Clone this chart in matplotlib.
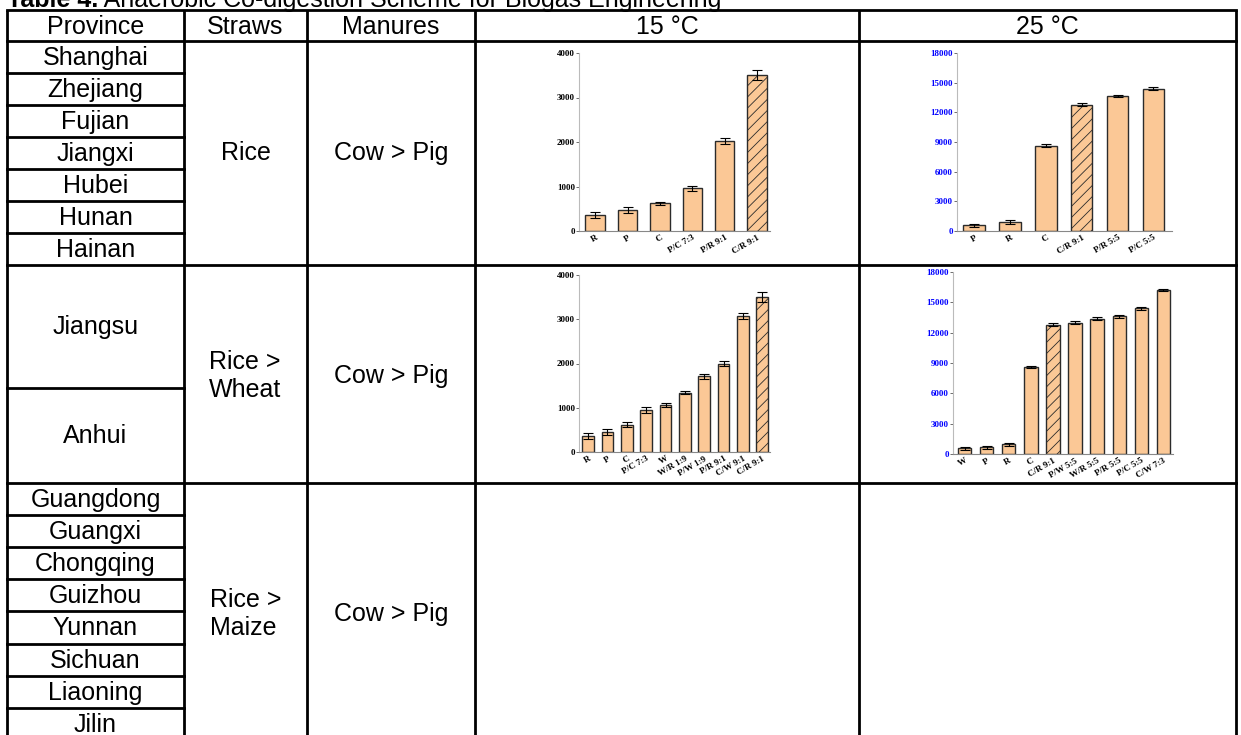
import matplotlib
matplotlib.use('Agg')
import matplotlib.pyplot as plt

# table text
title_bold = 'Table 4.'
title_rest = ' Anaerobic Co-digestion Scheme for Biogas Engineering'
headers = ['Province', 'Straws', 'Manures', '15 \u00b0C', '25 \u00b0C']
provinces_rice = ['Shanghai', 'Zhejiang', 'Fujian', 'Jiangxi', 'Hubei', 'Hunan', 'Hainan']
provinces_wheat = ['Jiangsu', 'Anhui']
provinces_maize = ['Guangdong', 'Guangxi', 'Chongqing', 'Guizhou', 'Yunnan',
                   'Sichuan', 'Liaoning', 'Jilin']
straws = ['Rice', 'Rice >\nWheat', 'Rice >\nMaize']
manures = ['Cow > Pig', 'Cow > Pig', 'Cow > Pig']

# biogas yields
labels_15_rice = ['R', 'P', 'C', 'P/C 7:3', 'P/R 9:1', 'C/R 9:1']
vals_15_rice = [360, 470, 620, 960, 2020, 3500]
errs_15_rice = [60, 60, 40, 50, 60, 110]

labels_25_rice = ['P', 'R', 'C', 'C/R 9:1', 'P/R 5:5', 'P/C 5:5']
vals_25_rice = [600, 950, 8630, 12790, 13630, 14410]
errs_25_rice = [150, 200, 150, 150, 120, 150]

labels_15_wheat = ['R', 'P', 'C', 'P/C 7:3', 'W', 'W/R 1:9', 'P/W 1:9', 'P/R 9:1', 'C/W 9:1', 'C/R 9:1']
vals_15_wheat = [370, 460, 620, 950, 1060, 1340, 1710, 2000, 3080, 3500]
errs_15_wheat = [70, 70, 50, 60, 50, 40, 50, 60, 70, 110]

labels_25_wheat = ['W', 'P', 'R', 'C', 'C/R 9:1', 'P/W 5:5', 'W/R 5:5', 'P/R 5:5', 'P/C 5:5', 'C/W 7:3']
vals_25_wheat = [550, 650, 950, 8600, 12800, 13000, 13400, 13600, 14400, 16200]
errs_25_wheat = [150, 150, 150, 120, 180, 120, 120, 150, 150, 120]

W, H = 1241, 735
plt.rcParams['hatch.linewidth'] = 0.6
fig = plt.figure(figsize=(W / 100, H / 100), dpi=100)
fig.patch.set_facecolor('white')

bg = fig.add_axes([0, 0, 1, 1])
bg.set_xlim(0, W)
bg.set_ylim(H, 0)
bg.axis('off')

font = 'Liberation Sans'
fs = 18
lw = 2

cols = [7, 184, 307, 475, 859, 1236]
top, head_bot = 10, 41
g1_bot, g2_split, g2_bot = 265, 388, 483
row_h3 = 32.1

# borders
for x in cols:
    bg.plot([x, x], [top, H + 5], color='black', lw=lw, solid_capstyle='butt')
for y in [top, head_bot, g1_bot, g2_bot]:
    bg.plot([cols[0], cols[-1]], [y, y], color='black', lw=lw)
for k in range(1, len(provinces_rice)):
    y = head_bot + k * (g1_bot - head_bot) / len(provinces_rice)
    bg.plot([cols[0], cols[1]], [y, y], color='black', lw=lw)
bg.plot([cols[0], cols[1]], [g2_split, g2_split], color='black', lw=lw)
for k in range(1, len(provinces_maize)):
    y = g2_bot + k * row_h3
    bg.plot([cols[0], cols[1]], [y, y], color='black', lw=lw)

# title (cut at the top edge as in the source page)
t1 = bg.text(7, 7, title_bold, fontsize=fs, fontweight='bold', family=font,
             ha='left', va='baseline')
bg.annotate(title_rest, xy=(1, 0), xycoords=t1, fontsize=fs, family=font,
            ha='left', va='bottom')

# header
for i, h in enumerate(headers):
    bg.text((cols[i] + cols[i + 1]) / 2, (top + head_bot) / 2 + 1, h,
            fontsize=fs, family=font, ha='center', va='center')

# provinces
rh1 = (g1_bot - head_bot) / len(provinces_rice)
for k, p in enumerate(provinces_rice):
    bg.text((cols[0] + cols[1]) / 2, head_bot + (k + 0.5) * rh1 + 1, p,
            fontsize=fs, family=font, ha='center', va='center')
bg.text((cols[0] + cols[1]) / 2, (g1_bot + g2_split) / 2, provinces_wheat[0],
        fontsize=fs, family=font, ha='center', va='center')
bg.text((cols[0] + cols[1]) / 2, (g2_split + g2_bot) / 2, provinces_wheat[1],
        fontsize=fs, family=font, ha='center', va='center')
for k, p in enumerate(provinces_maize):
    bg.text((cols[0] + cols[1]) / 2, g2_bot + (k + 0.5) * row_h3 + 1, p,
            fontsize=fs, family=font, ha='center', va='center')

group_mid = [(head_bot + g1_bot) / 2, (g1_bot + g2_bot) / 2 + 2, 614]
for s, m, y in zip(straws, manures, group_mid):
    bg.text((cols[1] + cols[2]) / 2, y, s, fontsize=fs, family=font,
            ha='center', va='center', multialignment='left', linespacing=1.25)
    bg.text((cols[2] + cols[3]) / 2, y, m, fontsize=fs, family=font,
            ha='center', va='center')


def px_axes(l, r, b, t):
    return fig.add_axes([l / W, 1 - b / H, (r - l) / W, (b - t) / H])


def bar_chart(ax, labels, vals, errs, ymax, step, tick_color, xlim):
    x = list(range(len(vals)))
    bars = ax.bar(x, vals, width=0.6, color='#fbc896', edgecolor='#2b2b2b', linewidth=1)
    for b, lab in zip(bars, labels):
        if lab == 'C/R 9:1':
            b.set_hatch('///')
    ax.errorbar(x, vals, yerr=errs, fmt='none', ecolor='black', elinewidth=0.8,
                capsize=3.5, capthick=0.8)
    ax.set_xlim(*xlim)
    ax.set_ylim(0, ymax)
    ax.set_yticks(range(0, ymax + 1, step))
    ax.set_xticks(x)
    ax.set_xticklabels(labels, rotation=30, ha='right', rotation_mode='anchor')
    for lab in ax.get_yticklabels() + ax.get_xticklabels():
        lab.set_family('Liberation Serif')
        lab.set_fontweight('bold')
        lab.set_fontsize(6.5)
    for lab in ax.get_yticklabels():
        lab.set_color(tick_color)
    ax.tick_params(axis='y', length=2, width=0.6, pad=1, color='#555555')
    ax.tick_params(axis='x', length=0, pad=2)
    for s in ['top', 'right']:
        ax.spines[s].set_visible(False)
    ax.spines['left'].set_color('#bbbbbb')
    ax.spines['bottom'].set_color('#888888')
    ax.set_facecolor('none')


ax1 = px_axes(579, 770, 231, 53)
bar_chart(ax1, labels_15_rice, vals_15_rice, errs_15_rice, 4000, 1000, 'black', (-0.5, 5.4))
ax2 = px_axes(957, 1172, 231, 53)
bar_chart(ax2, labels_25_rice, vals_25_rice, errs_25_rice, 18000, 3000, 'blue', (-0.48, 5.52))
ax3 = px_axes(579, 770, 452, 275)
bar_chart(ax3, labels_15_wheat, vals_15_wheat, errs_15_wheat, 4000, 1000, 'black', (-0.47, 9.4))
ax4 = px_axes(953, 1173, 454, 272)
bar_chart(ax4, labels_25_wheat, vals_25_wheat, errs_25_wheat, 18000, 3000, 'blue', (-0.53, 9.44))

fig.savefig('out.png', dpi=100)
